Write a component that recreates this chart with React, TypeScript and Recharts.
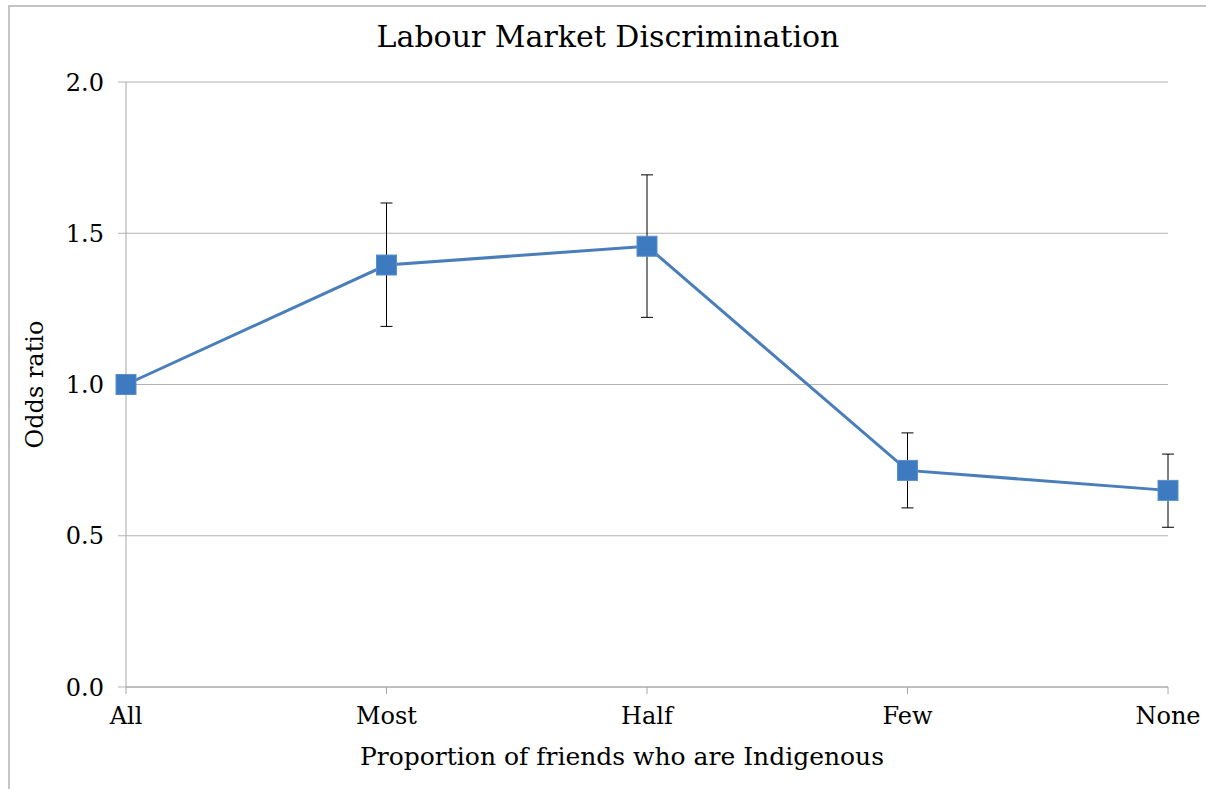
import React from "react";
import {
  LineChart,
  Line,
  XAxis,
  YAxis,
  CartesianGrid,
  ErrorBar,
  Label,
} from "recharts";

const categories = ["All", "Most", "Half", "Few", "None"];
const oddsRatio = [1.0, 1.395, 1.457, 0.716, 0.65];
const lowerCI = [1.0, 1.192, 1.222, 0.592, 0.528];
const upperCI = [1.0, 1.6, 1.693, 0.84, 0.77];
const yTicks = [0, 0.5, 1.0, 1.5, 2.0];

const data = categories.map((name, i) => ({
  name,
  value: oddsRatio[i],
  err: [oddsRatio[i] - lowerCI[i], upperCI[i] - oddsRatio[i]],
}));

const FONT = "'DejaVu Serif', 'Liberation Serif', serif";
const BLUE = "#4a7ebb";

const SquareDot = (props: any) => {
  const { cx, cy } = props;
  if (cx == null || cy == null) return null;
  return (
    <rect
      x={cx - 10}
      y={cy - 10}
      width={20}
      height={20}
      fill="#3d7abf"
      stroke="#5a8fcc"
      strokeWidth={1}
    />
  );
};

const App: React.FC = () => {
  return (
    <div
      style={{
        position: "absolute",
        top: 5,
        left: 8,
        width: 1196,
        height: 790,
        border: "2px solid #c4c4c4",
        background: "#fff",
        fontFamily: FONT,
        overflow: "visible",
      }}
    >
      <div
        style={{
          position: "absolute",
          left: 0,
          width: 1196,
          top: 15,
          textAlign: "center",
          fontSize: 30,
          lineHeight: 1,
          color: "#000",
          fontFamily: FONT,
        }}
      >
        Labour Market Discrimination
      </div>
      <div style={{ position: "absolute", left: 0, top: 0 }}>
        <LineChart
          width={1196}
          height={782}
          data={data}
          margin={{ top: 75, right: 38, left: 19, bottom: 42 }}
          style={{ overflow: "visible" }}
        >
          <CartesianGrid vertical={false} stroke="#b3b3b3" strokeWidth={1} />
          <XAxis
            dataKey="name"
            axisLine={{ stroke: "#a6a6a6" }}
            tickLine={{ stroke: "#a6a6a6" }}
            tickSize={7}
            tickMargin={13}
            height={60}
            tick={{ fill: "#000", fontSize: 24, fontFamily: FONT }}
            interval={0}
          >
            <Label
              value="Proportion of friends who are Indigenous"
              position="insideBottom"
              dx={-25}
              offset={-18}
              style={{ fill: "#000", fontSize: 25, fontFamily: FONT }}
            />
          </XAxis>
          <YAxis
            domain={[0, 2]}
            ticks={yTicks}
            tickFormatter={(v: number) => v.toFixed(1)}
            axisLine={{ stroke: "#a6a6a6" }}
            tickLine={{ stroke: "#b3b3b3" }}
            tickSize={8}
            tickMargin={14}
            width={97}
            tick={{ fill: "#000", fontSize: 24, fontFamily: FONT }}
          >
            <Label
              value="Odds ratio"
              angle={-90}
              position="insideLeft"
              offset={5}
              style={{
                fill: "#000",
                fontSize: 24,
                fontFamily: FONT,
                textAnchor: "middle",
              }}
            />
          </YAxis>
          <Line
            type="linear"
            dataKey="value"
            stroke={BLUE}
            strokeWidth={3}
            dot={<SquareDot />}
            activeDot={false}
            isAnimationActive={false}
          >
            <ErrorBar
              dataKey="err"
              width={6}
              stroke="#000"
              strokeWidth={1}
              direction="y"
            />
          </Line>
        </LineChart>
      </div>
    </div>
  );
};

export default App;
